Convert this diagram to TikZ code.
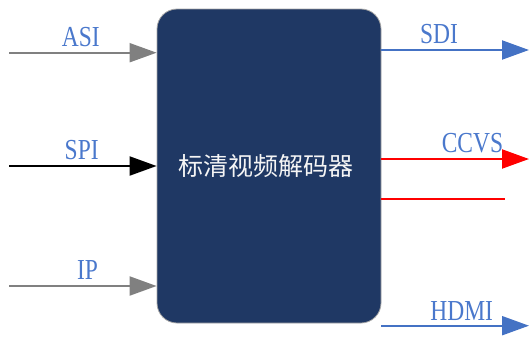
\documentclass[tikz,border=0pt]{standalone}
\usepackage{fontspec}
\setmainfont{Liberation Serif}
\newfontfamily\cjkfont{Noto Sans CJK SC}
\usetikzlibrary{arrows.meta}
\definecolor{navy}{HTML}{1F3864}
\definecolor{lblblue}{HTML}{4A78CC}
\definecolor{outblue}{HTML}{4472C4}
\definecolor{ingray}{HTML}{808080}
\tikzset{
  box/.style={draw=ingray!70, line width=0.8pt, fill=navy, rounded corners=20pt,
    minimum width=224pt, minimum height=314pt, inner sep=0pt},
  lbl/.style={text=lblblue, inner sep=0pt, font=\fontsize{29}{29}\selectfont},
  conn/.style={line width=2pt},
  tip/.style={-{Triangle[length=27pt,width=19pt]}},
}
\newcommand{\nl}[1]{\scalebox{0.81}[1]{#1}}
\begin{document}
\begin{tikzpicture}[x=1pt,y=-1pt]
\useasboundingbox (0,0) rectangle (529,338);
\node[box] (dec) at (269,166) {};
\node[text=white!92!gray, font=\cjkfont\fontsize{25}{25}\selectfont] (title) at (266,166.5) {标清视频解码器};
% input free ends
\coordinate (asiS) at (9,52.7);
\coordinate (spiS) at (9,166);
\coordinate (ipS) at (9,286);
% output free ends
\coordinate (sdiE) at (529,50);
\coordinate (ccvsE) at (529,159);
\coordinate (redE) at (505,199);
\coordinate (hdmiE) at (529,325.7);
% connectors
\draw[conn, tip, ingray] (asiS) -- (asiS -| dec.west);
\draw[conn, tip, black] (spiS) -- (spiS -| dec.west);
\draw[conn, tip, ingray] (ipS) -- (ipS -| dec.west);
\draw[conn, tip, outblue] (sdiE -| dec.east) -- (sdiE);
\draw[conn, tip, red] (ccvsE -| dec.east) -- (ccvsE);
\draw[conn, red] (redE -| dec.east) -- (redE);
\draw[conn, tip, outblue] (hdmiE -| dec.east) -- (hdmiE);
% labels
\node[lbl] (asi) at (80.8,36.7) {\nl{ASI}};
\node[lbl] (spi) at (81.7,150) {\nl{SPI}};
\node[lbl] (ip) at (87.5,270) {\nl{IP}};
\node[lbl] (sdi) at (439,34) {\nl{SDI}};
\node[lbl] (ccvs) at (472.5,143) {\nl{CCVS}};
\node[lbl] (hdmi) at (461.7,310.8) {\nl{HDMI}};
\end{tikzpicture}
\end{document}
